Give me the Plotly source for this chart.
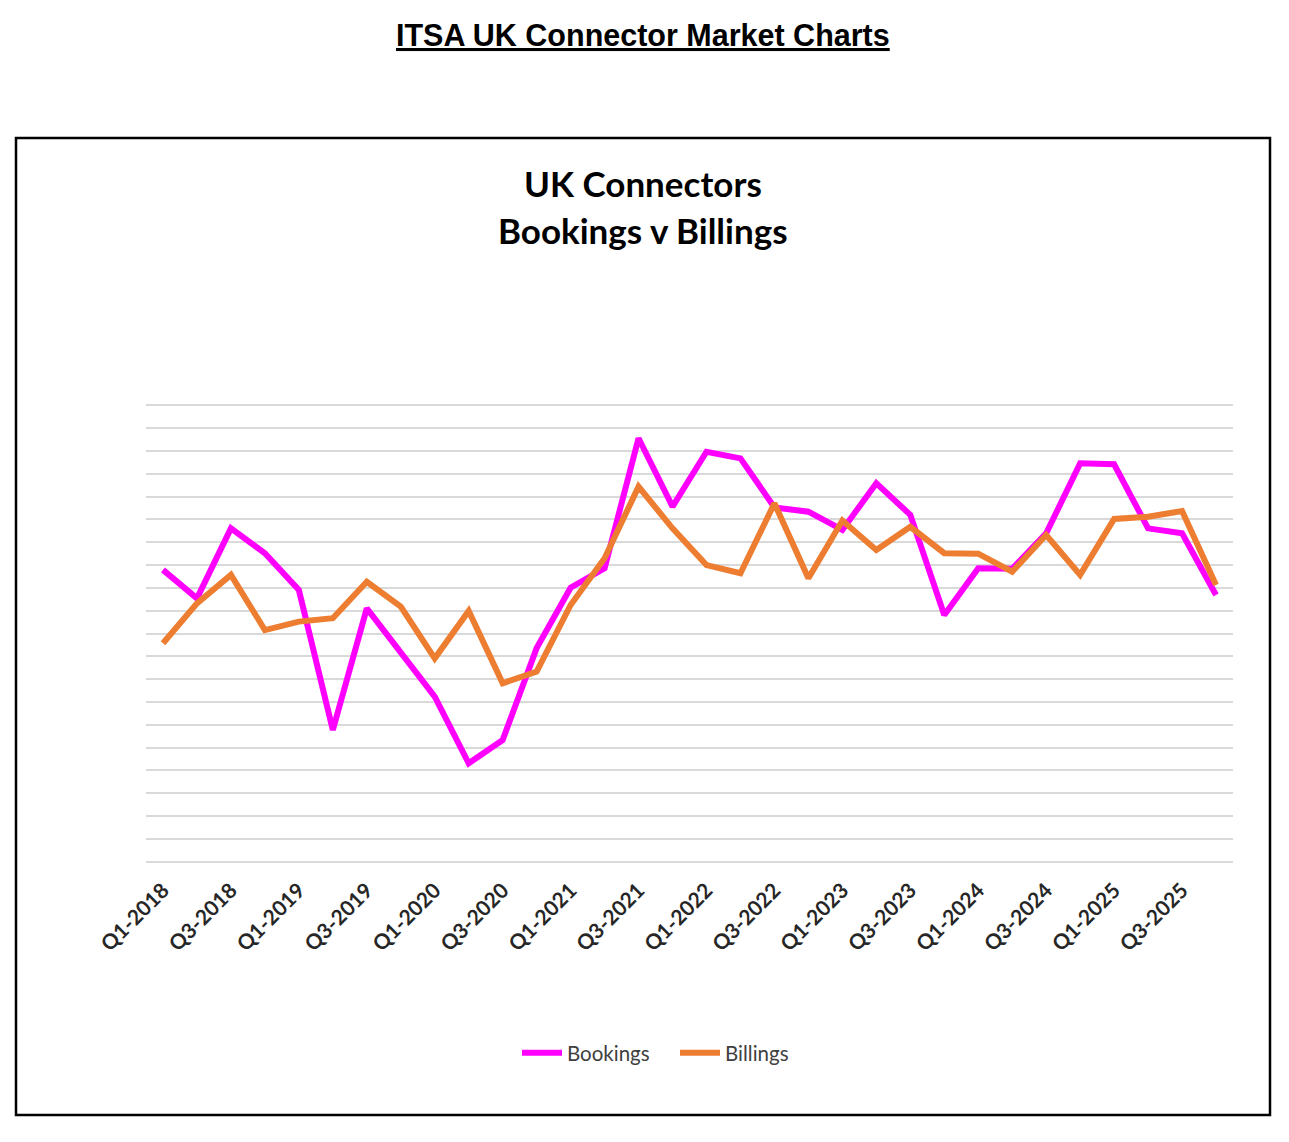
import plotly.graph_objects as go

quarters = [f"Q{q}-{y}" for y in range(2018, 2026) for q in (1, 2, 3, 4)]
tick_labels = quarters[::2]

bookings = [12.79, 11.54, 14.61, 13.52, 11.91, 5.77, 11.10, 9.13, 7.23, 4.31,
            5.33, 9.36, 12.01, 12.86, 18.56, 15.56, 17.97, 17.68, 15.53, 15.34,
            14.54, 16.59, 15.20, 10.81, 12.86, 12.84, 14.39, 17.46, 17.42, 14.61,
            14.39, 11.69]
billings = [9.57, 11.32, 12.57, 10.15, 10.52, 10.67, 12.27, 11.18, 8.91, 10.99,
            7.82, 8.33, 11.25, 13.30, 16.44, 14.61, 13.00, 12.64, 15.71, 12.42,
            14.95, 13.66, 14.68, 13.52, 13.50, 12.71, 14.32, 12.57, 15.02, 15.12,
            15.37, 12.13]

OFF = 8  # page body margin
W, H = 1289 - OFF, 1142 - OFF
L, T, pw, ph = 138, 394, 1087, 463
R, B = W - L - pw, H - T - ph

def px(x):
    return (x - OFF - L) / pw

def py(y):
    return (T + ph - (y - OFF)) / ph

fig = go.Figure()
fig.add_trace(go.Scatter(x=quarters, y=bookings, name="Bookings", mode="lines",
                         line=dict(color="#FF00FF", width=6)))
fig.add_trace(go.Scatter(x=quarters, y=billings, name="Billings", mode="lines",
                         line=dict(color="#ED7D31", width=6)))

fig.update_layout(
    width=W, height=H,
    margin=dict(l=L, r=R, t=T, b=B, autoexpand=False),
    paper_bgcolor="white", plot_bgcolor="white",
    showlegend=True,
    legend=dict(orientation="h", x=px(675), xanchor="center", y=py(1053), yanchor="middle",
                font=dict(family="Lato", size=20.5, color="#404040"),
                entrywidth=103, entrywidthmode="pixels",
                itemwidth=40, tracegroupgap=0),
    xaxis=dict(type="category", range=[-0.5, 31.5], tickvals=tick_labels,
               tickangle=-45, showgrid=False, showline=False, zeroline=False,
               ticks="", ticklabelstandoff=8,
               tickfont=dict(family="Lato", size=21, color="#262626", weight="bold")),
    yaxis=dict(range=[-0.15, 20.15], tick0=0, dtick=1, showticklabels=False, showgrid=True,
               gridcolor="#D9D9D9", gridwidth=2, zeroline=False, showline=False, ticks=""),
)

fig.add_annotation(text="ITSA UK Connector Market Charts", xref="paper", yref="paper",
                   x=px(643), y=py(35), xanchor="center", yanchor="middle", showarrow=False,
                   font=dict(family="Liberation Sans", size=30.5, color="black", weight="bold",
                             lineposition="under"))
fig.add_annotation(text="UK Connectors", xref="paper", yref="paper",
                   x=px(643), y=py(183), xanchor="center", yanchor="middle", showarrow=False,
                   font=dict(family="Lato", size=35, color="black", weight="bold"))
fig.add_annotation(text="Bookings v Billings", xref="paper", yref="paper",
                   x=px(643), y=py(230), xanchor="center", yanchor="middle", showarrow=False,
                   font=dict(family="Lato", size=35, color="black", weight="bold"))

fig.add_shape(type="rect", xref="paper", yref="paper",
              x0=px(16), x1=px(1270), y0=py(1115), y1=py(138),
              line=dict(color="black", width=2.5), fillcolor="rgba(0,0,0,0)", layer="below")

fig.write_html("out.html")
